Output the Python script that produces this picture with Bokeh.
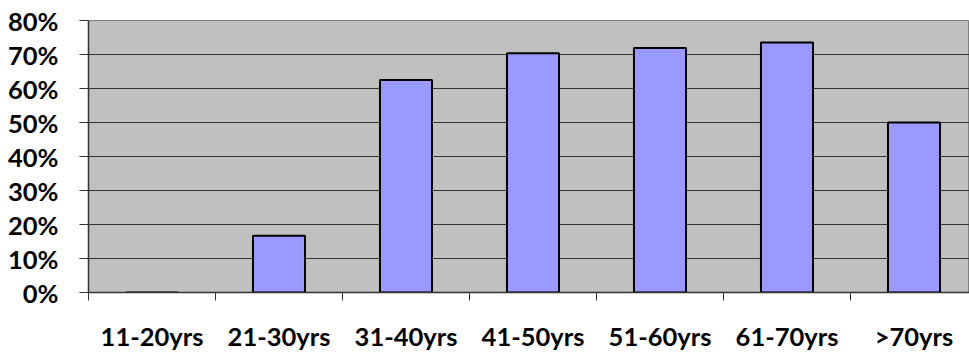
from bokeh.plotting import figure
from bokeh.models import ColumnDataSource, FixedTicker, NumeralTickFormatter, Range1d
from bokeh.embed import file_html
from bokeh.resources import INLINE

categories = ["11-20yrs", "21-30yrs", "31-40yrs", "41-50yrs", "51-60yrs", "61-70yrs", ">70yrs"]
values = [0.0, 0.167, 0.625, 0.704, 0.719, 0.735, 0.50]
y_ticks = [0.0, 0.1, 0.2, 0.3, 0.4, 0.5, 0.6, 0.7, 0.8]

centers = [i + 0.5 for i in range(len(categories))]
bounds = list(range(len(categories) + 1))

src = ColumnDataSource(dict(x=centers, top=values, cat=categories))

FONT = "Lato"

p = figure(width=969, height=356, output_backend="svg", toolbar_location=None,
           x_range=Range1d(0, 881 / 127), y_range=Range1d(0, 0.8),
           min_border_left=88, min_border_top=20, min_border_bottom=64, min_border_right=0)

p.background_fill_color = "#C0C0C0"
p.border_fill_color = "white"
p.outline_line_color = "#808080"
p.outline_line_width = 1

p.vbar(x="x", top="top", width=0.41, bottom=0, source=src,
       fill_color="#9999FF", line_color="black", line_width=2)

p.xgrid.grid_line_color = None
p.ygrid.ticker = FixedTicker(ticks=y_ticks)
p.ygrid.grid_line_color = "#333333"
p.ygrid.grid_line_width = 1.2

# y axis
ya = p.yaxis[0]
ya.ticker = FixedTicker(ticks=y_ticks)
ya.formatter = NumeralTickFormatter(format="0%")
ya.major_tick_out = 9
ya.major_tick_in = 0
ya.minor_tick_line_color = None
ya.axis_line_color = "#333333"
ya.axis_line_width = 1.5
ya.major_tick_line_color = "#333333"
ya.major_label_text_font = FONT
ya.major_label_text_font_style = "bold"
ya.major_label_text_font_size = "25.5px"
ya.major_label_text_color = "black"
ya.major_label_standoff = 21

# x axis
xa = p.xaxis[0]
xa.ticker = FixedTicker(ticks=centers, minor_ticks=bounds)
xa.major_label_overrides = {c: lab for c, lab in zip(centers, categories)}
xa.major_tick_line_color = None
xa.major_tick_out = 0
xa.major_tick_in = 0
xa.minor_tick_out = 8
xa.minor_tick_in = 0
xa.minor_tick_line_color = "#333333"
xa.axis_line_color = "#333333"
xa.axis_line_width = 1.5
xa.major_label_text_font = FONT
xa.major_label_text_font_style = "bold"
xa.major_label_text_font_size = "25.5px"
xa.major_label_text_color = "black"
xa.major_label_standoff = 20

open("out.html", "w").write(file_html(p, INLINE))
